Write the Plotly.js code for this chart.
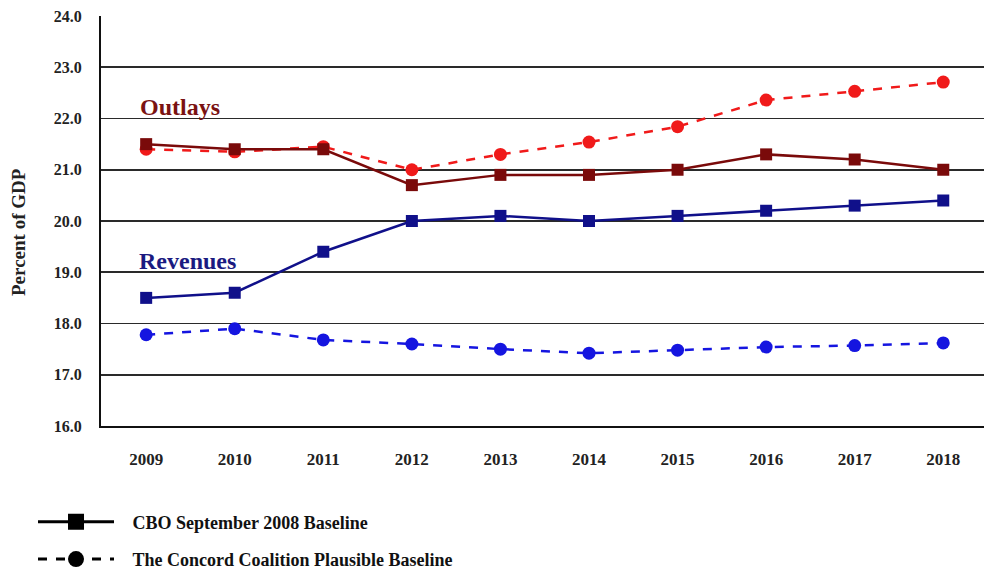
<!DOCTYPE html>
<html>
<head>
<meta charset="utf-8">
<script src="https://cdn.plot.ly/plotly-3.0.1.min.js"></script>
<style>html,body{margin:0;padding:0;background:#fff;}#chart{width:984px;height:570px;}</style>
</head>
<body>
<div id="chart"></div>
<script>
const years = ['2009','2010','2011','2012','2013','2014','2015','2016','2017','2018'];
const outlaysCBO = [21.5, 21.4, 21.4, 20.7, 20.9, 20.9, 21.0, 21.3, 21.2, 21.0];
const outlaysConcord = [21.4, 21.35, 21.45, 21.0, 21.3, 21.54, 21.84, 22.36, 22.53, 22.71];
const revenuesCBO = [18.5, 18.6, 19.4, 20.0, 20.1, 20.0, 20.1, 20.2, 20.3, 20.4];
const revenuesConcord = [17.78, 17.9, 17.68, 17.6, 17.5, 17.42, 17.48, 17.54, 17.57, 17.62];
const yTicks = [16, 17, 18, 19, 20, 21, 22, 23, 24];
const legendNames = ['CBO September 2008 Baseline', 'The Concord Coalition Plausible Baseline'];

const serif = '"Liberation Serif", "Times New Roman", serif';
const xIdx = years.map((_, i) => i);

function series(y, color, dash, symbol) {
  return {
    x: xIdx, y: y, type: 'scatter', mode: 'lines+markers', showlegend: false,
    line: {color: color, width: 2.5, dash: dash},
    marker: {color: color, size: symbol === 'square' ? 12 : 13, symbol: symbol},
    hoverinfo: 'skip'
  };
}

const pad = '&nbsp;&nbsp;&nbsp;';
const traces = [
  series(outlaysConcord, '#f01a1a', 'dash', 'circle'),
  series(outlaysCBO, '#7a0a0a', 'solid', 'square'),
  series(revenuesConcord, '#1515e0', 'dash', 'circle'),
  series(revenuesCBO, '#10108a', 'solid', 'square'),
  {x: [null], y: [null], type: 'scatter', mode: 'lines+markers', name: pad + '<b>' + legendNames[0] + '</b>',
   legendgroup: 'a', line: {color: '#000', width: 3}, marker: {color: '#000', size: 16, symbol: 'square'}},
  {x: [null], y: [null], type: 'scatter', mode: 'lines+markers', name: pad + '<b>' + legendNames[1] + '</b>',
   legendgroup: 'b', line: {color: '#000', width: 3, dash: 'dash'}, marker: {color: '#000', size: 17, symbol: 'circle'}}
];

const layout = {
  width: 984, height: 570,
  margin: {l: 101, r: 0, t: 16, b: 144, autoexpand: false},
  paper_bgcolor: '#fff', plot_bgcolor: '#fff',
  font: {family: serif, color: '#222'},
  xaxis: {
    range: [-0.51, 9.46], tickmode: 'array', tickvals: xIdx, ticktext: years.map(y => '<b>' + y + '</b>'),
    showgrid: false, zeroline: false, showline: true, linecolor: '#111', linewidth: 2,
    ticks: '', ticklabelstandoff: 17, tickfont: {family: serif, size: 17, color: '#222'}
  },
  yaxis: {
    range: [16, 24], tickmode: 'array', tickvals: yTicks, ticktext: yTicks.map(v => '<b>' + v.toFixed(1) + '</b>'),
    showgrid: true, gridcolor: '#2a2a2a', gridwidth: 1.6, zeroline: false,
    showline: true, linecolor: '#111', linewidth: 2,
    ticks: '', ticklabelstandoff: 14, tickfont: {family: serif, size: 16, color: '#222'}
  },
  showlegend: true,
  legend: {
    x: -0.077, y: -0.189, xanchor: 'left', yanchor: 'top', orientation: 'v',
    font: {family: serif, size: 18, color: '#111'}, itemwidth: 76, tracegroupgap: 11,
    bgcolor: 'rgba(0,0,0,0)'
  },
  annotations: [
    {text: '<b>Outlays</b>', xref: 'paper', yref: 'paper', x: (180 - 101) / 883, y: 1 - (107 - 16) / 410,
     xanchor: 'center', yanchor: 'middle',
     showarrow: false, font: {family: serif, size: 24, color: '#7a1212'}},
    {text: '<b>Revenues</b>', xref: 'paper', yref: 'paper', x: (187 - 101) / 883, y: 1 - (261 - 16) / 410,
     xanchor: 'center', yanchor: 'middle',
     showarrow: false, font: {family: serif, size: 24, color: '#1a1a80'}},
    {text: '<b>Percent of GDP</b>', xref: 'paper', yref: 'paper', x: (18 - 101) / 883, y: 1 - (232 - 16) / 410,
     xanchor: 'center', yanchor: 'middle',
     showarrow: false, textangle: -90, font: {family: serif, size: 19, color: '#222'}}
  ]
};

Plotly.newPlot('chart', traces, layout, {displayModeBar: false, staticPlot: true});
</script>
</body>
</html>
